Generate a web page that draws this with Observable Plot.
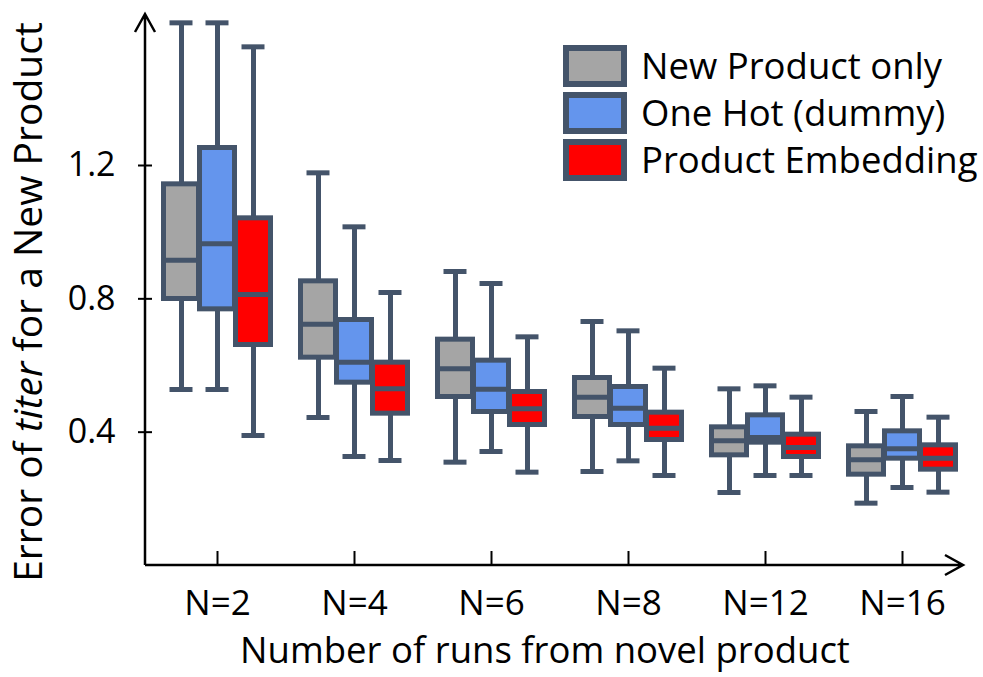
<!DOCTYPE html>
<html><head><meta charset="utf-8">
<script src="https://cdn.jsdelivr.net/npm/d3@7"></script>
<script src="https://cdn.jsdelivr.net/npm/@observablehq/plot@0.6"></script>
<style>body{margin:0;background:#fff}</style>
</head><body><div id="chart"></div>
<script>
// ---- data ----
const groups = ["N=2", "N=4", "N=6", "N=8", "N=12", "N=16"];
const seriesNames = ["New Product only", "One Hot (dummy)", "Product Embedding"];
const seriesFill = ["#A5A5A5", "#6495ED", "#FF0000"];
// each row: [min, q1, median, q3, max]
const newProductOnly = [
  [0.528, 0.798, 0.916, 1.145, 1.628],
  [0.444, 0.622, 0.724, 0.854, 1.178],
  [0.310, 0.504, 0.590, 0.679, 0.882],
  [0.282, 0.444, 0.505, 0.564, 0.732],
  [0.219, 0.329, 0.374, 0.416, 0.530],
  [0.187, 0.271, 0.317, 0.359, 0.462]
];
const oneHot = [
  [0.528, 0.767, 0.965, 1.254, 1.628],
  [0.327, 0.547, 0.610, 0.738, 1.016],
  [0.342, 0.459, 0.529, 0.616, 0.846],
  [0.314, 0.420, 0.472, 0.537, 0.704],
  [0.270, 0.367, 0.384, 0.452, 0.539],
  [0.234, 0.319, 0.350, 0.404, 0.507]
];
const productEmbedding = [
  [0.390, 0.660, 0.813, 1.043, 1.556],
  [0.315, 0.454, 0.530, 0.610, 0.819],
  [0.280, 0.420, 0.470, 0.522, 0.686],
  [0.270, 0.375, 0.412, 0.460, 0.592],
  [0.270, 0.324, 0.354, 0.394, 0.505],
  [0.220, 0.286, 0.322, 0.362, 0.445]
];
const yTicks = [0.4, 0.8, 1.2];
const xTitle = "Number of runs from novel product";

// ---- chart ----
const STROKE = "#44546A";
const FONT = "'Open Sans', sans-serif";
const allSeries = [newProductOnly, oneHot, productEmbedding];
const toRows = s => allSeries[s].map((d, i) => ({group: groups[i], lo: d[0], q1: d[1], med: d[2], q3: d[3], hi: d[4]}));

const marks = [];
allSeries.forEach((_, s) => {
  const data = toRows(s);
  const dx = (s - 1) * 36;
  marks.push(
    Plot.ruleX(data, {x: "group", y1: "lo", y2: "hi", stroke: STROKE, strokeWidth: 5, dx}),
    Plot.tickY(data, {x: "group", y: "lo", stroke: STROKE, strokeWidth: 5, dx, inset: 6.5}),
    Plot.tickY(data, {x: "group", y: "hi", stroke: STROKE, strokeWidth: 5, dx, inset: 6.5}),
    Plot.barY(data, {x: "group", y1: "q1", y2: "q3", fill: seriesFill[s], stroke: STROKE, strokeWidth: 5, dx, inset: 0.5}),
    Plot.tickY(data, {x: "group", y: "med", stroke: STROKE, strokeWidth: 5, dx, inset: 0.5})
  );
});

const plot = Plot.plot({
  width: 983,
  height: 677,
  marginLeft: 145,
  marginRight: 9,
  marginTop: 14,
  marginBottom: 112,
  style: {fontFamily: FONT, color: "#000", background: "#fff"},
  x: {type: "band", domain: groups, paddingInner: 0.7376, paddingOuter: 0.3907},
  y: {domain: [0, 1.653]},
  marks: [
    ...marks,
    Plot.axisY(yTicks, {tickSize: 0, tickPadding: 30, fontSize: 34, tickFormat: d3.format(".1f"), label: null}),
    Plot.axisY(yTicks, {tickSize: 14, dx: 7, tickFormat: () => "", label: null, strokeWidth: 2}),
    Plot.axisX({tickSize: 0, tickPadding: 25, fontSize: 35, label: null}),
    Plot.axisX({tickSize: 14, dy: -14, tickFormat: () => "", label: null, strokeWidth: 2})
  ]
});

const svg = d3.select(plot);
const y0 = plot.scale("y").apply(0);
const xL = 145, xR = 963, yT = 14;
svg.append("path")
  .attr("d", `M${xL},${y0}H${xR}M${xR - 18},${y0 - 10}L${xR},${y0}L${xR - 18},${y0 + 10}M${xL},${y0}V${yT}M${xL - 10},${yT + 18}L${xL},${yT}L${xL + 10},${yT + 18}`)
  .attr("fill", "none").attr("stroke", "#000").attr("stroke-width", 2.5);

// x title
svg.append("text").attr("x", 545).attr("y", 663).attr("text-anchor", "middle")
  .attr("font-family", FONT).attr("font-size", 36.5).attr("fill", "#000").text(xTitle);

// y title with italic "titer"
const yt = svg.append("text").attr("transform", "translate(42,302) rotate(-90)").attr("text-anchor", "middle")
  .attr("font-family", FONT).attr("font-size", 39).attr("fill", "#000");
yt.append("tspan").text("Error of ");
yt.append("tspan").attr("font-style", "italic").text("titer");
yt.append("tspan").text(" for a New Product");

// legend
const lg = svg.append("g");
seriesNames.forEach((name, i) => {
  const cy = 66 + i * 47;
  lg.append("rect").attr("x", 566).attr("y", cy - 18).attr("width", 58).attr("height", 36)
    .attr("fill", seriesFill[i]).attr("stroke", STROKE).attr("stroke-width", 6);
  lg.append("text").attr("x", 641).attr("y", cy).attr("dy", "0.36em").attr("text-anchor", "start")
    .attr("font-family", FONT).attr("font-size", 36.5).attr("fill", "#000").text(name);
});

document.getElementById("chart").appendChild(plot);
</script>
</body></html>
